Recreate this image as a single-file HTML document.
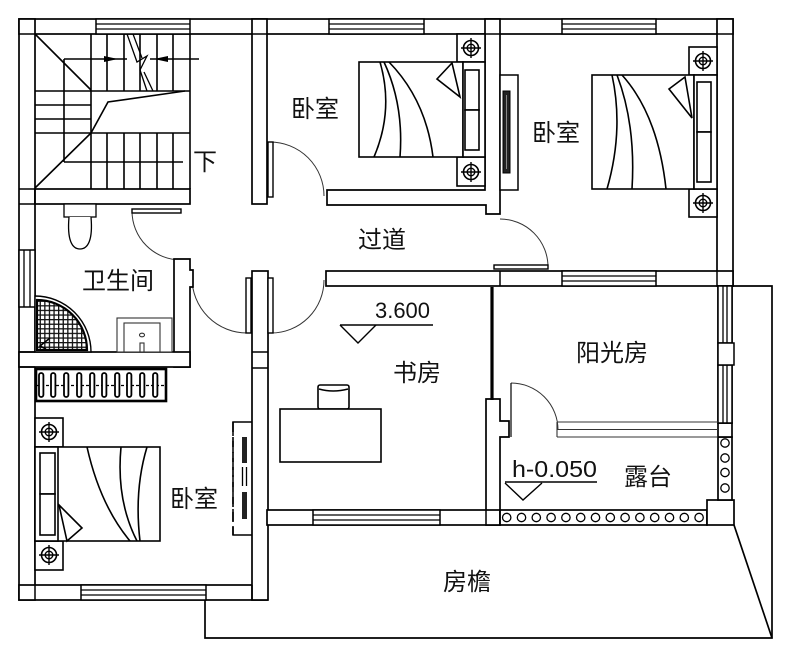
<!DOCTYPE html>
<html><head><meta charset="utf-8">
<style>html,body{margin:0;padding:0;background:#fff}svg{display:block}
text{font-family:"Liberation Sans","Noto Sans CJK SC",sans-serif;fill:#111}
.cj{font-family:"Liberation Sans","Noto Sans CJK SC",sans-serif;font-size:24px}
</style></head>
<body>
<svg width="789" height="657" viewBox="0 0 789 657" xmlns="http://www.w3.org/2000/svg">
<defs>
<pattern id="g" width="4.6" height="4.6" patternUnits="userSpaceOnUse" x="35" y="296"><rect width="4.6" height="4.6" fill="#fff"/><path d="M0 0.6H4.6M0.6 0V4.6" stroke="#111" stroke-width="1.4"/></pattern>
<g id="t"><circle r="7.5" fill="none" stroke="#000" stroke-width="1.6"/><circle r="3.8" fill="none" stroke="#000" stroke-width="1.4"/><path d="M-10 0H10M0 -10V10" stroke="#000" stroke-width="1.4"/></g>
</defs>

<!-- eave outline -->
<g fill="none" stroke="#000" stroke-width="1.7">
<path d="M733 286H772V638H205V600"/>
<path d="M734 525L772 638"/>
</g>

<!-- door arcs (thin) -->
<g fill="none" stroke="#333" stroke-width="1">
<path d="M132 211 A49 49 0 0 0 181 260"/>
<path d="M247 333 A55 55 0 0 1 192 278"/>
<path d="M271 333 A53 53 0 0 0 324 280"/>
<path d="M270 142 A54 54 0 0 1 324 196"/>
<path d="M500 219 A48 48 0 0 1 548 267"/>
<path d="M511 383 A47 47 0 0 1 558 430"/>
</g>

<!-- walls -->
<g fill="#fff" stroke="#000" stroke-width="1.7">
<rect x="19" y="19" width="714" height="15"/>
<rect x="19" y="19" width="16" height="581"/>
<rect x="19" y="585" width="248" height="15"/>
<rect x="252" y="19" width="15" height="185"/>
<rect x="252" y="271" width="16" height="329"/>
<rect x="35" y="189" width="155" height="15"/>
<path d="M174 259H190V270H193V287H190V367H174Z"/>
<rect x="19" y="352" width="171" height="15"/>
<path d="M327 190H485V19H500V214H486V205H327Z"/>
<rect x="717" y="19" width="16" height="267"/>
<rect x="326" y="271" width="407" height="15"/>
<path d="M486 399H500V421H509V437H500V525H486Z"/>
<rect x="267" y="510" width="233" height="15"/>
<rect x="500" y="510" width="207" height="15"/>
<rect x="707" y="500" width="27" height="25"/>
<rect x="718" y="437" width="14" height="63"/>
<rect x="718" y="423" width="14" height="14"/>
<rect x="718" y="286" width="14" height="137"/>
</g>
<!-- wall joint lines -->
<g stroke="#000" stroke-width="1.5" fill="none">
<path d="M252 352H268M252 368H268"/>
<path d="M19 34H35M252 34H267M485 34H500M717 34H733"/>
<path d="M35 189V204M19 189H35M19 204H35"/>
<path d="M500 271V286M717 271V286"/>
<path d="M19 352H35M19 367H35"/>
<path d="M35 585V600M252 585V600"/>
<path d="M486 510V525M500 510V525"/>
</g>

<!-- windows -->
<g fill="#fff" stroke="#000" stroke-width="1.5">
<rect x="96" y="19" width="94" height="15"/>
<rect x="329" y="19" width="95" height="15"/>
<rect x="562" y="19" width="94" height="15"/>
<rect x="562" y="271" width="94" height="15"/>
<rect x="313" y="510" width="127" height="15"/>
<rect x="81" y="585" width="125" height="15"/>
<rect x="19" y="250" width="16" height="57"/>
<rect x="718" y="286" width="14" height="57"/>
<rect x="718" y="365" width="14" height="58"/>
<rect x="718" y="343" width="16" height="22"/>
</g>
<g stroke="#000" stroke-width="1.3" fill="none">
<path d="M96 24H190M96 29H190"/>
<path d="M329 24H424M329 29H424"/>
<path d="M562 24H656M562 29H656"/>
<path d="M562 276H656M562 281H656"/>
<path d="M313 515H440M313 520H440"/>
<path d="M81 590H206M81 595H206"/>
<path d="M24 250V307M30 250V307"/>
<path d="M723 286V343M727 286V343M723 365V423M727 365V423"/>
</g>

<!-- partition thick line study/sunroom -->
<path d="M492 287V400" stroke="#000" stroke-width="3.2"/>

<!-- door leaves -->
<g fill="#fff" stroke="#000" stroke-width="1.4">
<rect x="132" y="209" width="49" height="4"/>
<rect x="246" y="278" width="5" height="55"/>
<rect x="268" y="278" width="5" height="55"/>
<rect x="268" y="142" width="5" height="55"/>
<rect x="494" y="265" width="54" height="4"/>
</g>
<path d="M511 383V437" stroke="#000" stroke-width="1.2"/>
<!-- glass door lines -->
<g stroke="#333" stroke-width="1.1" fill="none">
<path d="M557 422H718M557 429.5H718M557 437H718M557 422V437"/>
</g>

<!-- stairs -->
<g stroke="#000" stroke-width="1.6" fill="none">
<path d="M190 34V189"/>
<path d="M35 91H190M35 133H190M35 105H91M35 119H91"/>
<path d="M91 34V189M107 34V91M124 34V91M140 34V91M157 34V91M173 34V91"/>
<path d="M107 133V189M124 133V189M140 133V189M157 133V189M173 133V189"/>
<path d="M64 59V162M64 162H183M64 59H127M150 59H199"/>
<path d="M35 34L91 90"/>
<path d="M35 188L91 133L108 102L185 91"/>
<path d="M127 34L137 62L147 56L140 70L147 91" stroke-width="1.3"/>
<path d="M133 34L142 58" stroke-width="1.3"/>
<path d="M144 72L153 91" stroke-width="1.3"/>
</g>
<path d="M104 56L118 59L104 62Z" fill="#000"/>
<path d="M168 56L154 59L168 62Z" fill="#000"/>

<!-- toilet -->
<g stroke="#000" stroke-width="1.3" fill="#fff">
<rect x="64" y="204" width="32" height="13"/>
<path d="M69 217 C67 240 72 249 80 249 C88 249 93 240 91 217"/>
</g>

<!-- shower -->
<path d="M35 352V296A56 56 0 0 1 91 352Z" fill="#fff" stroke="#000" stroke-width="1.4"/>
<path d="M37 350V300A50 50 0 0 1 87 350Z" fill="url(#g)" stroke="#000" stroke-width="2.2"/>
<path d="M50 338L40 346L46 349" stroke="#000" stroke-width="1.6" fill="none"/>

<!-- sink -->
<g stroke="#333" stroke-width="1.1" fill="#fff">
<rect x="117" y="318" width="55" height="34"/>
<rect x="124" y="323" width="36" height="29"/>
<ellipse cx="142" cy="335" rx="2.5" ry="1.8"/>
<rect x="140" y="343" width="4" height="9"/>
</g>

<!-- cabinet below bathroom -->
<rect x="36" y="369" width="130" height="32" fill="#fff" stroke="#000" stroke-width="2.6"/>
<path d="M36 385.5H166" stroke="#000" stroke-width="1.2" stroke-dasharray="3 2"/>
<g fill="#fff" stroke="#000" stroke-width="1.8">
<rect x="39" y="373" width="4.4" height="24" rx="2.2"/>
<rect x="51" y="373" width="4.4" height="24" rx="2.2"/>
<rect x="64" y="373" width="4.4" height="24" rx="2.2"/>
<rect x="77" y="373" width="4.4" height="24" rx="2.2"/>
<rect x="90" y="373" width="4.4" height="24" rx="2.2"/>
<rect x="102" y="373" width="4.4" height="24" rx="2.2"/>
<rect x="115" y="373" width="4.4" height="24" rx="2.2"/>
<rect x="127" y="373" width="4.4" height="24" rx="2.2"/>
<rect x="140" y="373" width="4.4" height="24" rx="2.2"/>
<rect x="153" y="373" width="4.4" height="24" rx="2.2"/>
</g>

<!-- bedroom 1 (top middle) -->
<g stroke="#000" stroke-width="1.6" fill="#fff">
<rect x="457" y="34" width="28" height="28"/>
<rect x="457" y="157" width="28" height="29"/>
<rect x="359" y="62" width="104" height="95"/>
<rect x="463" y="62" width="22" height="95"/>
<rect x="465" y="70" width="14" height="40"/>
<rect x="465" y="110" width="14" height="40"/>
<path d="M452 63L437 79L460 97Z"/>
</g>
<g stroke="#000" stroke-width="1.6" fill="none">
<path d="M380 62Q394 110 374 157"/>
<path d="M384 62Q404 105 400 157"/>
<path d="M389 62Q426 100 433 157"/>
</g>
<use href="#t" x="471" y="48"/>
<use href="#t" x="471" y="172"/>
<!-- TV bedroom1 -->
<rect x="500" y="75" width="18" height="115" fill="#fff" stroke="#000" stroke-width="1.5"/>
<rect x="503" y="91" width="7" height="82" fill="#222" stroke="#000" stroke-width="1"/>
<path d="M506.5 95V169" stroke="#888" stroke-width="1"/>

<!-- right bedroom -->
<g stroke="#000" stroke-width="1.6" fill="#fff">
<rect x="689" y="47" width="28" height="28"/>
<rect x="689" y="189" width="28" height="28"/>
<rect x="592" y="75" width="102" height="114"/>
<rect x="694" y="75" width="23" height="114"/>
<rect x="697" y="82" width="14" height="50"/>
<rect x="697" y="132" width="14" height="50"/>
<path d="M685 77L669 89L692 118Z"/>
</g>
<g stroke="#000" stroke-width="1.6" fill="none">
<path d="M612 75Q624 130 607 189"/>
<path d="M617 75Q636 125 632 189"/>
<path d="M622 75Q658 115 666 189"/>
</g>
<use href="#t" x="703" y="61"/>
<use href="#t" x="703" y="203"/>

<!-- left bedroom -->
<g stroke="#000" stroke-width="1.6" fill="#fff">
<rect x="35" y="418" width="28" height="29"/>
<rect x="35" y="541" width="28" height="29"/>
<rect x="35" y="447" width="125" height="94"/>
<rect x="35" y="447" width="23" height="94"/>
<rect x="40" y="453" width="15" height="41"/>
<rect x="40" y="494" width="15" height="41"/>
<path d="M59 505L82 528L67 541Z"/>
</g>
<g stroke="#000" stroke-width="1.6" fill="none">
<path d="M87 447Q100 505 130 541"/>
<path d="M121 447Q116 500 137 541"/>
<path d="M147 447Q134 490 140 541"/>
</g>
<use href="#t" x="49" y="432"/>
<use href="#t" x="49" y="555"/>
<!-- wardrobe -->
<path d="M252 422H233V535H252" fill="none" stroke="#000" stroke-width="1.5"/>
<path d="M233 424V535" stroke="#fff" stroke-width="2" stroke-dasharray="0 12 5 0"/>
<path d="M233 422V535" stroke="#000" stroke-width="1.6" stroke-dasharray="10 5"/>
<rect x="242" y="437" width="5" height="26" fill="#222"/>
<rect x="242" y="492" width="5" height="27" fill="#222"/>
<path d="M242.5 467V486M246.5 467V486" stroke="#000" stroke-width="1.3"/>

<!-- study desk and chair -->
<g stroke="#000" stroke-width="1.6" fill="#fff">
<rect x="318" y="385" width="31" height="24" rx="2"/>
<rect x="280" y="409" width="101" height="53"/>
</g>
<path d="M319 389Q333 393 348 389" stroke="#000" stroke-width="1.6" fill="none"/>

<!-- railing circles -->
<g fill="#fff" stroke="#000" stroke-width="1.3">
<circle cx="506.7" cy="517.5" r="4.2"/><circle cx="521.5" cy="517.5" r="4.2"/><circle cx="536.3" cy="517.5" r="4.2"/><circle cx="551.1" cy="517.5" r="4.2"/><circle cx="565.9" cy="517.5" r="4.2"/><circle cx="580.7" cy="517.5" r="4.2"/><circle cx="595.5" cy="517.5" r="4.2"/><circle cx="610.3" cy="517.5" r="4.2"/><circle cx="625.1" cy="517.5" r="4.2"/><circle cx="639.9" cy="517.5" r="4.2"/><circle cx="654.7" cy="517.5" r="4.2"/><circle cx="669.5" cy="517.5" r="4.2"/><circle cx="684.3" cy="517.5" r="4.2"/><circle cx="699.1" cy="517.5" r="4.2"/>
<circle cx="725" cy="443" r="4.2"/><circle cx="725" cy="458" r="4.2"/><circle cx="725" cy="472.5" r="4.2"/><circle cx="725" cy="488" r="4.2"/>
</g>

<!-- elevation marks -->
<g stroke="#000" stroke-width="1.4" fill="none">
<path d="M340 325H433"/>
<path d="M340 325L358 343L376 325"/>
<path d="M505 482H597"/>
<path d="M505 483L523 500L542 483"/>
</g>
<text x="375" y="318" font-size="22" textLength="55" lengthAdjust="spacingAndGlyphs">3.600</text>
<text x="512" y="477" font-size="23" textLength="85" lengthAdjust="spacingAndGlyphs">h-0.050</text>

<!-- labels -->
<text class="cj" x="291" y="117" font-size="25">卧室</text>
<text class="cj" x="532" y="141">卧室</text>
<text class="cj" x="170" y="507" font-size="25">卧室</text>
<text class="cj" x="82" y="289">卫生间</text>
<text class="cj" x="358" y="248">过道</text>
<text class="cj" x="393" y="381">书房</text>
<text class="cj" x="576" y="361" font-size="25">阳光房</text>
<text class="cj" x="624" y="485" font-size="25">露台</text>
<text class="cj" x="443" y="590" font-size="26">房檐</text>
<text class="cj" x="193" y="170" font-size="22">下</text>
</svg>
</body></html>
